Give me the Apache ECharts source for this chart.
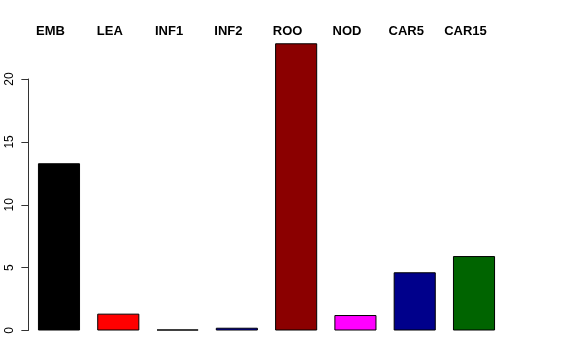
<!DOCTYPE html>
<html>
<head>
<meta charset="utf-8">
<script src="https://cdn.jsdelivr.net/npm/echarts@6/dist/echarts.min.js"></script>
<style>html,body{margin:0;padding:0;background:#fff;}#c{width:576px;height:360px;}</style>
</head>
<body>
<div id="c"></div>
<script>
const categories = ['EMB', 'LEA', 'INF1', 'INF2', 'ROO', 'NOD', 'CAR5', 'CAR15'];
const values = [13.3, 1.34, 0.08, 0.22, 22.84, 1.23, 4.63, 5.92];
const barColors = ['#000000', '#FF0000', '#2F4F2F', '#0000CD', '#8B0000', '#FF00FF', '#00008B', '#006400'];
const yTicks = [0, 5, 10, 15, 20];

const chart = echarts.init(document.getElementById('c'), null, {renderer: 'canvas'});
chart.setOption({
  animation: false,
  backgroundColor: '#ffffff',
  grid: {left: 29.35, right: 72.35, top: 79, bottom: 29.5, containLabel: false},
  xAxis: {
    type: 'category',
    data: categories,
    position: 'top',
    axisLine: {show: false},
    axisTick: {show: false},
    axisLabel: {
      margin: 41,
      fontFamily: 'Liberation Sans, Arial, sans-serif',
      fontWeight: 'bold',
      fontSize: 13,
      color: '#000',
      padding: [0, 17, 0, 0],
      interval: 0
    }
  },
  yAxis: {
    type: 'value',
    min: yTicks[0],
    max: yTicks[yTicks.length - 1],
    interval: 5,
    offset: 1,
    splitLine: {show: false},
    axisLine: {show: true, lineStyle: {color: '#333', width: 1}},
    axisTick: {show: true, length: 7, lineStyle: {color: '#333', width: 1}},
    axisLabel: {
      rotate: 90,
      margin: 13,
      fontFamily: 'Liberation Sans, Arial, sans-serif',
      fontSize: 12,
      color: '#000'
    }
  },
  series: [{
    type: 'bar',
    clip: false,
    barCategoryGap: '29%',
    data: values.map((v, i) => ({value: v, itemStyle: {color: barColors[i]}})),
    itemStyle: {borderColor: '#000', borderWidth: 1}
  }]
});
</script>
</body>
</html>
